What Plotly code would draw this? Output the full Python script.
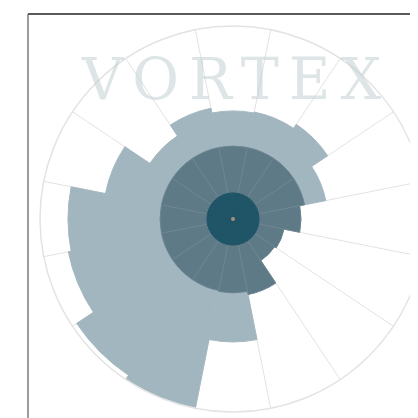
import plotly.graph_objects as go

# ---- data ----
directions = ["N", "NNE", "NE", "ENE", "E", "ESE", "SE", "SSE",
              "S", "SSW", "SW", "WSW", "W", "WNW", "NW", "NNW"]
angles = [0, 22.5, 45, 67.5, 90, 112.5, 135, 157.5,
          180, 202.5, 225, 247.5, 270, 292.5, 315, 337.5]
outer_values = [56.0, 56.5, 59.0, 49.0, 35.2, 26.9, 25.9, 39.9,
                63.7, 99.5, 97.4, 87.0, 85.5, 67.4, 51.8, 58.5]
middle_values = [37.8, 37.8, 37.8, 37.8, 35.2, 26.9, 25.9, 39.9,
                 38.3, 37.8, 37.8, 37.8, 37.8, 37.8, 37.8, 37.8]
inner_values = [13.5] * 16
grid_angles = [11.25, 33.75, 56.25, 78.75, 101.25, 123.75, 146.25, 168.75,
               191.25, 213.75, 236.25, 258.75, 281.25, 303.75, 326.25, 348.75]
title_text = "VORTEX"

W, H = 418, 418
OFF = 8  # page offset of figure (body margin)

def px(x):
    return (x - OFF) / W

def py(y):
    return 1 - (y - OFF) / H

cx, cy, R = 233, 219, 193

fig = go.Figure()
fig.add_trace(go.Barpolar(r=outer_values, theta=angles,
                          marker=dict(color="#a1b6be", line=dict(color="#a4b8c0", width=1)),
                          name="outer", hoverinfo="skip"))
fig.add_trace(go.Barpolar(r=middle_values, theta=angles,
                          marker=dict(color="#5e7a87", line=dict(color="#6d8693", width=0.9)),
                          name="middle", hoverinfo="skip"))
fig.add_trace(go.Barpolar(r=inner_values, theta=angles,
                          marker=dict(color="#1f5567", line=dict(color="#1f5567", width=1)),
                          name="inner", hoverinfo="skip"))
fig.add_trace(go.Scatterpolar(r=[0], theta=[0], mode="markers",
                              marker=dict(color="#a58f7f", size=4),
                              hoverinfo="skip", showlegend=False))

fig.update_layout(
    width=W, height=H,
    margin=dict(l=0, r=0, t=0, b=0),
    paper_bgcolor="white",
    showlegend=False,
    polar=dict(
        domain=dict(x=[px(cx - R), px(cx + R)], y=[py(cy + R), py(cy - R)]),
        bgcolor="white",
        barmode="overlay",
        bargap=0,
        radialaxis=dict(range=[0, 100], showgrid=False, showline=False,
                        showticklabels=False, ticks=""),
        angularaxis=dict(rotation=90, direction="clockwise",
                         tickmode="array", tickvals=grid_angles,
                         showticklabels=False, ticks="",
                         showgrid=True, gridcolor="#e3e3e3", gridwidth=1.2,
                         showline=True, linecolor="#e3e3e3", linewidth=1.5),
    ),
    annotations=[dict(
        text='<span style="letter-spacing:10px">' + title_text + '</span>',
        x=px(236), y=py(79), xref="paper", yref="paper",
        xanchor="center", yanchor="middle", showarrow=False,
        font=dict(family="DejaVu Serif", size=57, color="rgba(190,204,206,0.5)"),
    )],
    shapes=[
        dict(type="line", xref="paper", yref="paper",
             x0=px(28), x1=1.05, y0=py(14), y1=py(14),
             line=dict(color="#222222", width=1.5)),
        dict(type="line", xref="paper", yref="paper",
             x0=px(28), x1=px(28), y0=py(14), y1=-0.05,
             line=dict(color="#5a5a5a", width=1.2)),
    ],
)

fig.write_html("out.html")
